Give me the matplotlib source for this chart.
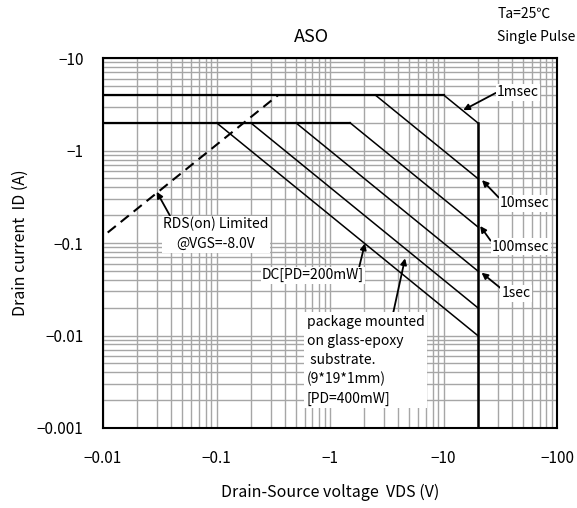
import matplotlib
matplotlib.use("Agg")
import matplotlib.pyplot as plt
import numpy as np

plt.rcParams['font.family'] = ['Noto Sans CJK JP', 'DejaVu Sans']

# axis ticks
x_ticks = [0.01, 0.1, 1, 10, 100]
x_labels = ['−0.01', '−0.1', '−1', '−10', '−100']
y_ticks = [0.001, 0.01, 0.1, 1, 10]
y_labels = ['−0.001', '−0.01', '−0.1', '−1', '−10']

# current limits (A) and voltage limit (V)
id_pulse = 4.0
id_dc = 2.0
vds_max = 20.0

# power limited segments: (start voltage, current at start)
pulse_names = ['1msec', '10msec', '100msec', '1sec', 'DC', 'package']
pulse_v0 = [10.0, 2.5, 1.5, 0.5, 0.1, 0.2]
pulse_i0 = [4.0, 4.0, 2.0, 2.0, 2.0, 2.0]

# RDS(on) limit (dashed)
rds_v = [0.011, 0.35]
rds_i = [0.13, 4.0]

fig = plt.figure(figsize=(5.77, 5.08), dpi=100)
ax = fig.add_axes([0.1785, 0.1575, 0.787, 0.728])
ax.set_xscale('log')
ax.set_yscale('log')
ax.set_xlim(0.01, 100)
ax.set_ylim(0.001, 10)

ax.grid(True, which='both', color='#a6a6a6', lw=1.0)
ax.set_axisbelow(True)

# horizontal limits
ax.plot([0.01, pulse_v0[0]], [id_pulse, id_pulse], color='black', lw=1.6)
ax.plot([0.01, pulse_v0[2]], [id_dc, id_dc], color='black', lw=1.6)

# diagonal power limits
for v0, i0 in zip(pulse_v0, pulse_i0):
    p = v0 * i0
    ax.plot([v0, vds_max], [i0, p / vds_max], color='black', lw=1.1)

# VDS limit
ax.plot([vds_max, vds_max], [0.001, pulse_v0[0] * pulse_i0[0] / vds_max],
        color='black', lw=1.8)

# RDS(on) limited
ax.plot(rds_v, rds_i, color='black', lw=1.5, ls=(0, (5, 3)))

ax.set_xticks(x_ticks)
ax.set_xticklabels(x_labels)
ax.set_yticks(y_ticks)
ax.set_yticklabels(y_labels)
ax.tick_params(which='both', length=0, labelsize=11)
ax.tick_params(axis='x', pad=16)
ax.tick_params(axis='y', pad=14)
for s in ax.spines.values():
    s.set_linewidth(1.5)

ax.set_xlabel('Drain-Source voltage  VDS (V)', fontsize=11.5, labelpad=12)
ax.set_ylabel('Drain current  ID (A)', fontsize=11.5, labelpad=6)

fig.text(0.54, 0.927, 'ASO', ha='center', va='center', fontsize=13)
fig.text(0.862, 0.972, 'Ta=25℃', ha='left', va='center', fontsize=10)
fig.text(0.862, 0.927, 'Single Pulse', ha='left', va='center', fontsize=10)

arrow = dict(arrowstyle='-|>', color='black', lw=1.3, mutation_scale=9,
             shrinkA=0, shrinkB=0)
box = dict(boxstyle='square,pad=0.1', fc='white', ec='none')

ax.annotate('1msec', xy=(14.9, 2.74), xytext=(29.6, 4.28), fontsize=10,
            ha='left', va='center', arrowprops=dict(arrow, relpos=(0, 0.5)),
            bbox=box)
ax.annotate('10msec', xy=(21.8, 0.48), xytext=(31.5, 0.27), fontsize=10,
            ha='left', va='center', arrowprops=dict(arrow, relpos=(0, 0.8)),
            bbox=box)
ax.annotate('100msec', xy=(21.0, 0.153), xytext=(26.7, 0.0912), fontsize=10,
            ha='left', va='center', arrowprops=dict(arrow, relpos=(0, 0.8)),
            bbox=box)
ax.annotate('1sec', xy=(21.6, 0.0478), xytext=(32.6, 0.0286), fontsize=10,
            ha='left', va='center', arrowprops=dict(arrow, relpos=(0, 0.8)),
            bbox=box)

ax.annotate('RDS(on) Limited\n@VGS=-8.0V', xy=(0.0297, 0.359),
            xytext=(0.099, 0.125), fontsize=10, ha='center', va='center',
            linespacing=1.5, arrowprops=dict(arrow, relpos=(0.07, 1)), bbox=box)
ax.annotate('DC[PD=200mW]', xy=(2.03, 0.0993), xytext=(0.708, 0.0451),
            fontsize=10, ha='center', va='center',
            arrowprops=dict(arrow, relpos=(0.95, 1)), bbox=box)
ax.annotate('package mounted\non glass-epoxy\n substrate.\n(9*19*1mm)\n[PD=400mW]',
            xy=(4.58, 0.0684), xytext=(0.624, 0.0167), fontsize=10,
            ha='left', va='top', linespacing=1.45,
            arrowprops=dict(arrow, relpos=(0.73, 1)),
            bbox=dict(boxstyle='square,pad=0.2', fc='white', ec='none'))

fig.savefig('out.png', dpi=100)
